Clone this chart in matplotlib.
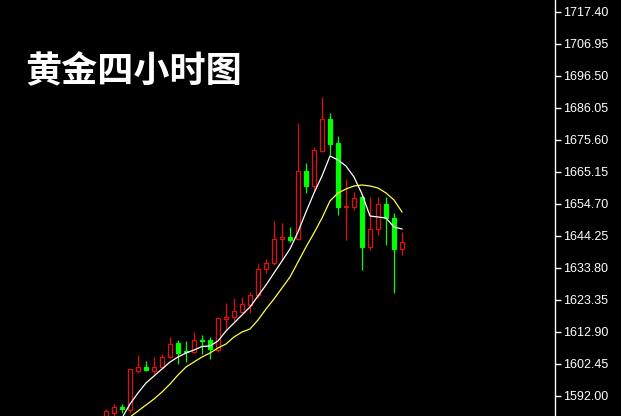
import matplotlib
matplotlib.use("Agg")
import matplotlib.pyplot as plt
import numpy as np

# ---- data ----
opens = [1584.82, 1586.55, 1588.31, 1587.43, 1600.26, 1601.57, 1600.26, 1601.37, 1604.64, 1609.15,
         1606.60, 1606.21, 1610.45, 1610.29, 1607.02, 1617.24, 1617.70, 1619.53, 1621.82, 1624.89,
         1633.38, 1635.34, 1643.17, 1644.02, 1643.17, 1665.57, 1660.58, 1672.17, 1682.36, 1674.72,
         1653.72, 1653.82, 1656.89, 1640.56, 1646.44, 1654.70, 1650.03, 1639.91]
highs = [1587.76, 1589.29, 1589.39, 1600.98, 1605.29, 1603.43, 1604.64, 1605.72, 1611.27, 1610.13,
         1609.80, 1613.06, 1611.82, 1611.37, 1617.63, 1622.37, 1623.91, 1624.33, 1625.96, 1635.11,
         1636.64, 1649.25, 1648.59, 1647.09, 1681.25, 1667.99, 1673.41, 1689.74, 1684.52, 1676.81,
         1662.86, 1658.72, 1657.64, 1657.08, 1656.89, 1656.89, 1651.86, 1645.66]
lows = [1584.16, 1585.47, 1586.35, 1586.45, 1599.61, 1600.16, 1599.19, 1601.05, 1604.41, 1602.29,
        1602.94, 1605.88, 1605.72, 1603.92, 1606.37, 1613.72, 1615.84, 1618.78, 1619.01, 1623.91,
        1632.07, 1634.68, 1636.41, 1642.39, 1642.94, 1658.29, 1659.27, 1671.78, 1670.70, 1651.27,
        1642.94, 1652.74, 1633.15, 1639.68, 1644.58, 1641.31, 1625.54, 1638.05]
closes = [1587.10, 1588.51, 1587.66, 1600.72, 1601.57, 1600.49, 1601.37, 1604.64, 1608.98, 1606.14,
          1606.21, 1610.29, 1609.96, 1607.35, 1617.47, 1617.70, 1619.66, 1622.04, 1624.89, 1633.38,
          1635.34, 1643.17, 1644.02, 1642.94, 1665.57, 1660.58, 1672.33, 1682.36, 1674.39, 1653.56,
          1654.05, 1656.56, 1640.56, 1646.44, 1654.70, 1650.03, 1639.91, 1642.29]
ma_white = [1576.00, 1580.24, 1584.82, 1589.39, 1592.98, 1596.25, 1598.53, 1600.82, 1603.10, 1604.74,
            1606.04, 1607.02, 1608.17, 1608.33, 1609.96, 1613.23, 1615.84, 1618.45, 1621.06, 1624.66,
            1628.25, 1632.17, 1636.09, 1640.01, 1645.56, 1652.09, 1658.29, 1663.84, 1670.38, 1669.07,
            1667.11, 1663.52, 1657.97, 1650.78, 1650.45, 1650.13, 1647.19, 1646.54]
ma_yellow = [1578.94, 1581.22, 1583.51, 1585.14, 1587.10, 1589.06, 1591.02, 1593.31, 1595.92, 1598.86,
             1601.47, 1603.10, 1604.74, 1606.04, 1607.68, 1608.98, 1611.27, 1612.90, 1613.88, 1616.82,
             1620.41, 1623.68, 1627.27, 1630.86, 1635.76, 1640.66, 1645.23, 1650.13, 1655.68, 1658.29,
             1659.60, 1660.58, 1660.91, 1660.58, 1659.93, 1658.29, 1656.01, 1652.09]
price_ticks = [1592.00, 1602.45, 1612.90, 1623.35, 1633.80, 1644.25, 1654.70, 1665.15,
               1675.60, 1686.05, 1696.50, 1706.95, 1717.40]
title_text = "黄金四小时图"

# ---- figure ----
W, H = 621, 416
fig = plt.figure(figsize=(W / 100, H / 100), dpi=100, facecolor="black")
ax_w = 555 / W
ax = fig.add_axes([0, 0, ax_w, 1], facecolor="black")

n = len(opens)
idx = np.arange(n)
o = np.array(opens); c = np.array(closes); h = np.array(highs); l = np.array(lows)
up = c >= o

red = "#e01010"
green = "#00ff00"

# wicks
ax.vlines(idx[up], l[up], h[up], colors=red, linewidth=0.9, zorder=2)
ax.vlines(idx[~up], l[~up], h[~up], colors=green, linewidth=0.9, zorder=2)

# bodies
bw = 0.52
bot = np.minimum(o, c)
hgt = np.maximum(np.abs(c - o), 0.05)
ax.bar(idx[up], hgt[up], bottom=bot[up], width=bw, facecolor="black",
       edgecolor=red, linewidth=0.9, zorder=3)
ax.bar(idx[~up], hgt[~up], bottom=bot[~up], width=bw, facecolor=green,
       edgecolor=green, linewidth=0.9, zorder=3)

# moving averages
ax.plot(idx, ma_yellow, color="#ffff40", linewidth=0.9, zorder=4)
ax.plot(idx, ma_white, color="white", linewidth=0.9, zorder=4)

# scales: candle k centered at pixel 106 + 8k
ax.set_xlim(-106 / 8, (555 - 106) / 8)
ppu = 32 / 10.45
ax.set_ylim(1717.40 - (416 - 12) / ppu, 1717.40 + 12 / ppu)

for s in ["left", "top", "bottom"]:
    ax.spines[s].set_visible(False)
ax.spines["right"].set_color("white")
ax.spines["right"].set_linewidth(1.0)
ax.set_xticks([])
ax.yaxis.tick_right()
ax.set_yticks(price_ticks)
ax.set_yticklabels([f"{v:.2f}" for v in price_ticks])
ax.tick_params(axis="y", colors="white", direction="out", length=4, width=1,
               pad=1.5, labelsize=9, labelcolor="white")
for lab in ax.get_yticklabels():
    lab.set_fontfamily(["Liberation Sans", "DejaVu Sans"])

fig.text(25 / W, 1 - 72 / H, title_text, color="white", fontsize=26,
         fontweight="bold", family=["Noto Sans CJK SC", "DejaVu Sans"],
         ha="left", va="center")

fig.savefig("out.png", dpi=100, facecolor="black")
